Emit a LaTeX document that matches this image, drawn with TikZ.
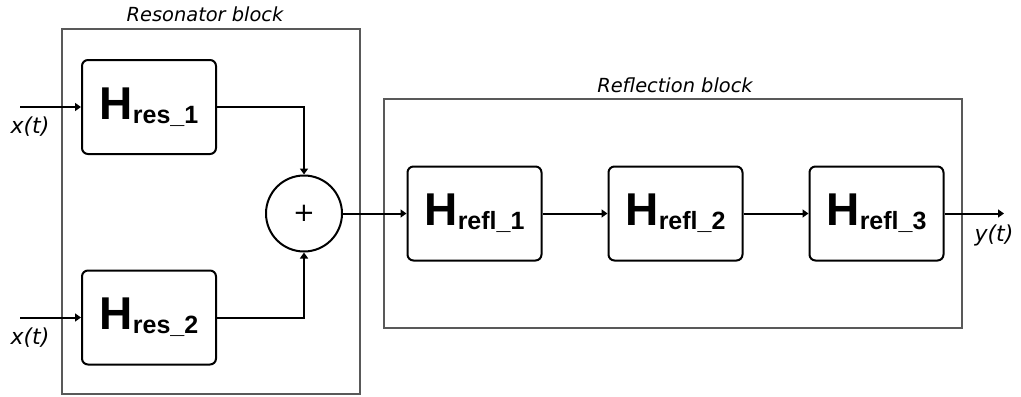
\documentclass[tikz,border=0pt]{standalone}
\usepackage{fontspec}
\setmainfont{Liberation Sans}
\newfontfamily\labelfont{DejaVu Sans}
\usetikzlibrary{arrows.meta, positioning}

% transfer function block label: big H with a lowered index
\newcommand{\hlabel}[2]{{\fontsize{23}{23}\selectfont\bfseries H}%
  \raisebox{-2pt}{\fontsize{12.5}{12.5}\selectfont\bfseries #1\_#2}}

\begin{document}
\begin{tikzpicture}[
    x=0.5pt, y=-0.5pt,
    every node/.style={inner sep=0pt},
    hbox/.style={draw, line width=1pt, rounded corners=3pt,
                 minimum width=67pt, minimum height=47pt},
    sumnode/.style={draw, circle, line width=1pt, minimum size=38pt},
    frame/.style={draw=black!65, line width=0.7pt},
    caption/.style={font=\labelfont\itshape\fontsize{9.7}{11}\selectfont},
    signal/.style={font=\labelfont\itshape\fontsize{11}{13}\selectfont},
    arrow/.style={-{Triangle[length=3pt,width=4pt]}, line width=1pt}
]
    \useasboundingbox (0,0) rectangle (1021,396);

    % the two enclosing blocks
    \draw[frame] (62,29) rectangle (360,394);
    \draw[frame] (384,99) rectangle (962,328);
    \node[caption, anchor=base] (resname) at (205,21.5) {Resonator block};
    \node[caption, anchor=base] (reflname) at (675,92) {Reflection block};

    % resonators and summing point
    \node[hbox] (res1) at (149,107) {\hlabel{res}{1}};
    \node[hbox] (res2) at (149,317.5) {\hlabel{res}{2}};
    \node[sumnode] (sum) at (304,213.5) {\labelfont\fontsize{13}{13}\selectfont +};

    % reflection chain
    \node[hbox] (refl1) at (474.5,213.5) {\hlabel{refl}{1}};
    \node[hbox, right=32.5pt of refl1] (refl2) {\hlabel{refl}{2}};
    \node[hbox, right=32.5pt of refl2] (refl3) {\hlabel{refl}{3}};

    % inputs and output
    \coordinate (in1) at (20,107);
    \coordinate (in2) at (20,317.5);
    \coordinate (out) at (1004,213.5);
    \node[signal, anchor=base] (x1) at (30,133) {x(t)};
    \node[signal, anchor=base] (x2) at (30,344) {x(t)};
    \node[signal, anchor=base] (y) at (994,241) {y(t)};

    \draw[arrow] (in1) -- (res1);
    \draw[arrow] (in2) -- (res2);
    \draw[arrow] (res1.east) -| (sum.north);
    \draw[arrow] (res2.east) -| (sum.south);
    \draw[arrow] (sum) -- (refl1);
    \draw[arrow] (refl1) -- (refl2);
    \draw[arrow] (refl2) -- (refl3);
    \draw[arrow] (refl3) -- (out);
\end{tikzpicture}
\end{document}
